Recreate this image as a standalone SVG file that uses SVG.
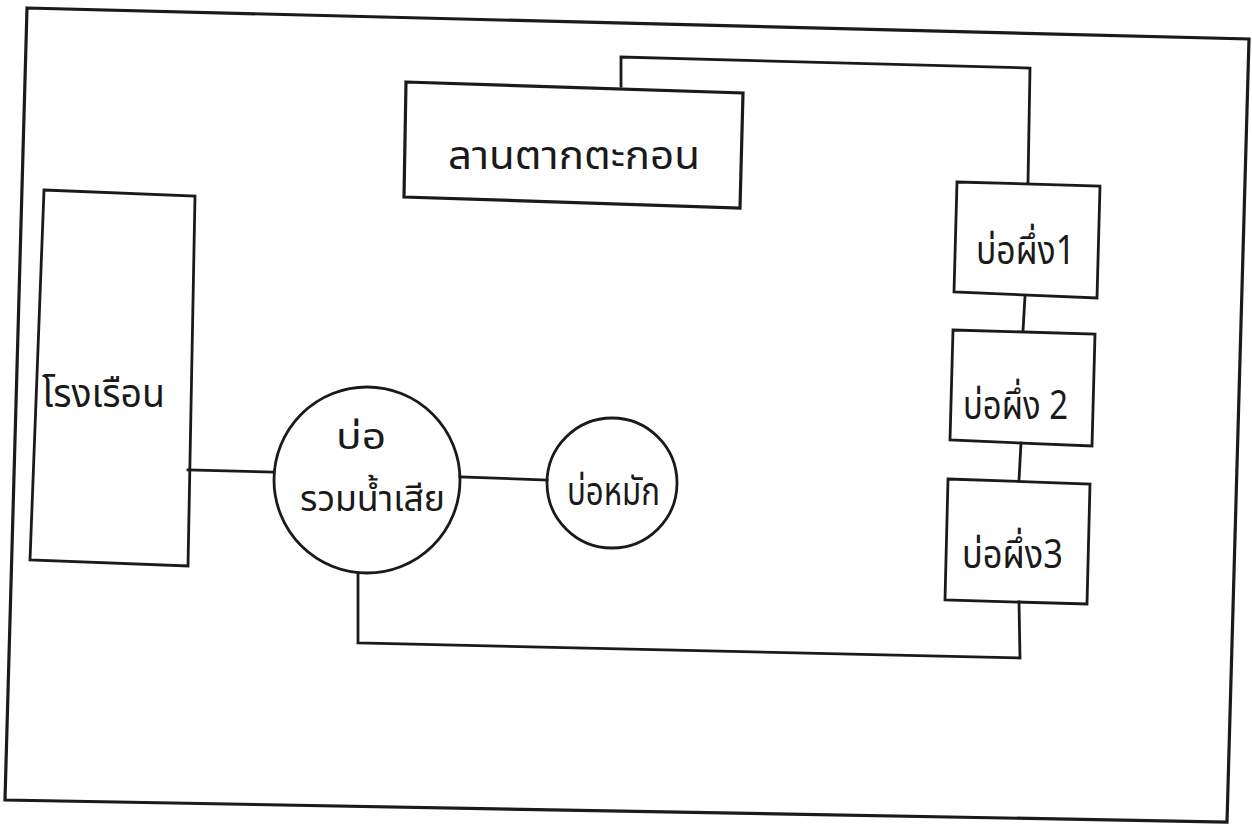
<svg xmlns="http://www.w3.org/2000/svg" width="1252" height="824" viewBox="0 0 1252 824">
<style>
.ln{fill:none;stroke:#1a1a1a;stroke-width:2.8;stroke-linejoin:miter;stroke-linecap:square}
.nd{fill:none;stroke:#1a1a1a;stroke-width:2.8}
.tx{font-family:"Noto Sans Thai","Noto Sans","DejaVu Sans",sans-serif;fill:#1a1a1a;font-size:40px}
.sm{font-size:36px}
</style>
<rect width="1252" height="824" fill="#ffffff"/>
<polygon class="ln" points="27,8 1249,39 1227,822 5,800" style="stroke-width:3.2"/>
<g id="connectors">
<polyline class="ln" points="621,86 621,57 1030,68 1028,183"/>
<line class="ln" x1="188" y1="470" x2="274" y2="472"/>
<line class="ln" x1="460" y1="477" x2="547" y2="480"/>
<line class="ln" x1="1025" y1="296" x2="1023" y2="331"/>
<line class="ln" x1="1021" y1="443" x2="1019" y2="480"/>
<polyline class="ln" points="1019,602 1020,658 358,643 358,573"/>
</g>
<g id="lan-tak-takon">
<polygon class="nd" points="406,82 743,93 740,208 404,197" style="stroke-width:3.2"/>
<text class="tx" x="448" y="169" textLength="252" lengthAdjust="spacingAndGlyphs">ลานตากตะกอน</text>
</g>
<g id="rong-ruean">
<polygon class="nd" points="44,190 195,196 188,566 30,560"/>
<text class="tx" x="42" y="407" textLength="123" lengthAdjust="spacingAndGlyphs">โรงเรือน</text>
</g>
<g id="bo-ruam">
<circle class="nd" cx="367" cy="480" r="93"/>
<text class="tx sm" x="336" y="449" textLength="50" lengthAdjust="spacingAndGlyphs">บ่อ</text>
<text class="tx sm" x="300" y="511" textLength="145" lengthAdjust="spacingAndGlyphs">รวมน้ำเสีย</text>
</g>
<g id="bo-mak">
<circle class="nd" cx="612" cy="483" r="65"/>
<text class="tx" x="567" y="505" textLength="93" lengthAdjust="spacingAndGlyphs">บ่อหมัก</text>
</g>
<g id="bo-phueng-1">
<polygon class="nd" points="957,182 1100,186 1097,298 954,292"/>
<text class="tx" x="976" y="264" textLength="99" lengthAdjust="spacingAndGlyphs">บ่อผึ่ง1</text>
</g>
<g id="bo-phueng-2">
<polygon class="nd" points="953,330 1095,334 1092,446 950,440"/>
<text class="tx" x="963" y="419" textLength="105" lengthAdjust="spacingAndGlyphs">บ่อผึ่ง 2</text>
</g>
<g id="bo-phueng-3">
<polygon class="nd" points="948,479 1090,484 1087,604 945,600"/>
<text class="tx" x="962" y="568" textLength="101" lengthAdjust="spacingAndGlyphs">บ่อผึ่ง3</text>
</g>
</svg>
